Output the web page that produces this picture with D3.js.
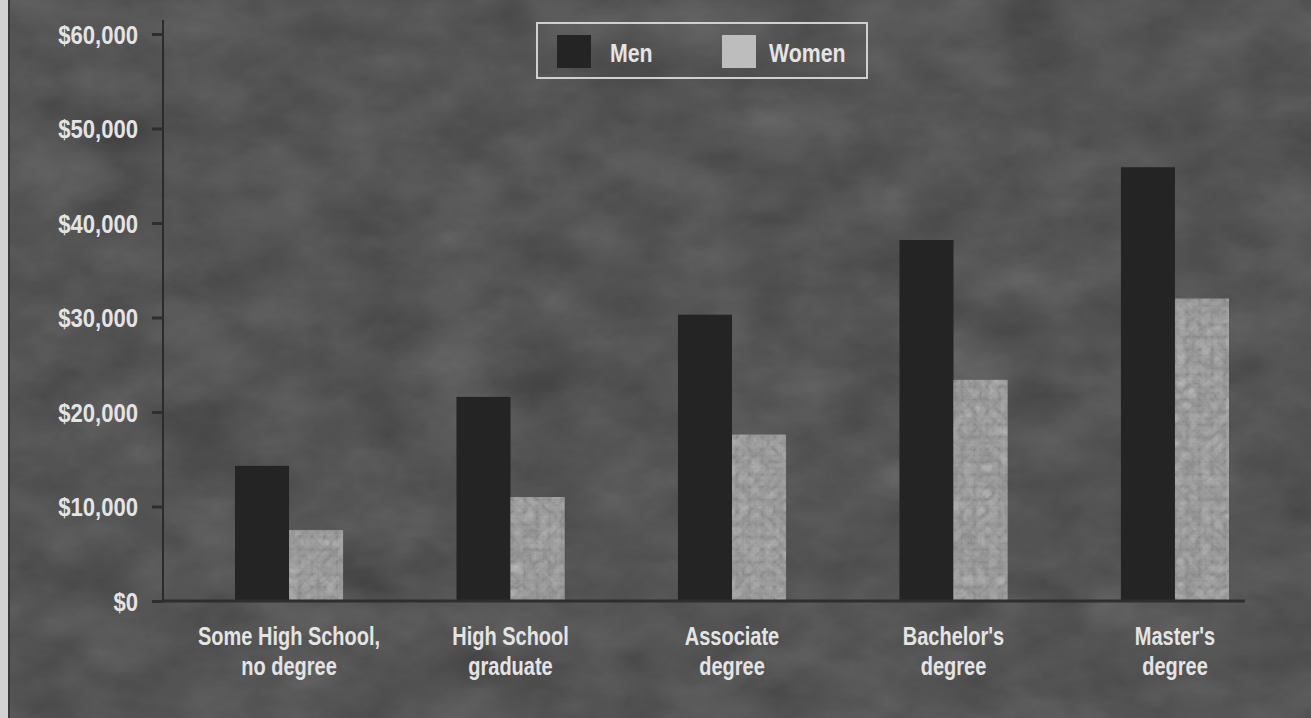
<!DOCTYPE html>
<html><head><meta charset="utf-8">
<script src="https://cdn.jsdelivr.net/npm/d3@7"></script>
<style>
html,body{margin:0;padding:0;background:#4f4f4f;overflow:hidden}
text{font-family:"Liberation Sans",Arial,sans-serif;font-weight:bold;fill:#e4e4e4}
</style></head>
<body><svg id="c" width="1311" height="718"></svg>
<script>
const categories = [["Some High School,","no degree"],["High School","graduate"],["Associate","degree"],["Bachelor's","degree"],["Master's","degree"]];
const seriesNames = ["Men","Women"];
const men   = [14300, 21600, 30300, 38200, 45900];
const women = [7500, 11000, 17600, 23400, 32000];
const yTicks = [0,10000,20000,30000,40000,50000,60000];
const yTickLabels = ["$0","$10,000","$20,000","$30,000","$40,000","$50,000","$60,000"];

const W = 1311, H = 718;
const SX = 0.82;
const svg = d3.select("#c");
const defs = svg.append("defs");

const f = defs.append("filter").attr("id","stone").attr("x",0).attr("y",0).attr("width","100%").attr("height","100%").attr("color-interpolation-filters","sRGB");
f.append("feTurbulence").attr("type","fractalNoise").attr("baseFrequency","0.012 0.02").attr("numOctaves",5).attr("seed",7);
f.append("feColorMatrix").attr("type","matrix").attr("values","0.33 0.33 0.33 0 0 0.33 0.33 0.33 0 0 0.33 0.33 0.33 0 0 0 0 0 0 1");

const f2 = defs.append("filter").attr("id","swirl").attr("x",0).attr("y",0).attr("width","100%").attr("height","100%").attr("color-interpolation-filters","sRGB");
f2.append("feTurbulence").attr("type","turbulence").attr("baseFrequency","0.08").attr("numOctaves",3).attr("seed",2);
f2.append("feColorMatrix").attr("type","matrix").attr("values","0.33 0.33 0.33 0 0 0.33 0.33 0.33 0 0 0.33 0.33 0.33 0 0 0 0 0 0 1");
const cp = defs.append("clipPath").attr("id","womenClip");

// background
svg.append("rect").attr("width",W).attr("height",H).attr("fill","#474747");
svg.append("rect").attr("width",W).attr("height",H).attr("filter","url(#stone)").attr("opacity",0.25);
svg.append("rect").attr("x",0).attr("y",0).attr("width",8).attr("height",H).attr("fill","#d2d2d2");
svg.append("rect").attr("x",8).attr("y",0).attr("width",2).attr("height",H).attr("fill","#3a3a3a");

const y = d3.scaleLinear().domain([0,60000]).range([601,34]);
const keys = categories.map(c=>c.join(" "));
const x = d3.scaleBand().domain(keys).range([165,1299]).paddingInner(0.512).paddingOuter(0.316);
const xs = d3.scaleBand().domain(seriesNames).range([0,x.bandwidth()]);

// y axis
const yAxis = d3.axisLeft(y).tickValues(yTicks).tickFormat((d,i)=>yTickLabels[i]).tickSize(11).tickPadding(25);
const ga = svg.append("g").attr("transform","translate(163,0)").call(yAxis);
ga.select(".domain").attr("stroke","#2b2b2b").attr("stroke-width",2).attr("d","M0,20V601");
ga.selectAll(".tick line").attr("stroke","#2e2e2e").attr("stroke-width",3);
ga.selectAll(".tick text").attr("font-size",26).attr("fill","#e4e4e4").attr("dy","0.36em")
  .attr("x",-25/0.85).attr("transform","scale(0.85,1)")
  .style("font-family",'"Liberation Sans",Arial,sans-serif').style("font-weight","bold");

// bars
const data = keys.map((k,i)=>({k, vals:[{s:"Men",v:men[i]},{s:"Women",v:women[i]}]}));
const g = svg.append("g");
data.forEach(d=>{
  d.vals.forEach(p=>{
    const bx = x(d.k)+xs(p.s), by = y(p.v), bw = xs.bandwidth(), bh = y(0)-y(p.v);
    if(p.s==="Men"){
      g.append("rect").attr("x",bx).attr("y",by).attr("width",bw).attr("height",bh).attr("fill","#242424");
    } else {
      g.append("rect").attr("x",bx).attr("y",by).attr("width",bw).attr("height",bh).attr("fill","#bdbdbd");
      cp.append("rect").attr("x",bx).attr("y",by).attr("width",bw).attr("height",bh);
    }
  });
});
g.append("rect").attr("width",W).attr("height",H).attr("filter","url(#swirl)").attr("clip-path","url(#womenClip)").attr("opacity",0.3);

// x axis line
svg.append("line").attr("x1",163).attr("x2",1245).attr("y1",y(0)).attr("y2",y(0)).attr("stroke","#2e2e2e").attr("stroke-width",3);

// category labels
categories.forEach((c,i)=>{
  const cx = x(keys[i]) + x.bandwidth()/2;
  const t = svg.append("text").attr("transform",`translate(${cx},645) scale(0.8,1)`).attr("text-anchor","middle").attr("font-size",25);
  c.forEach((line,j)=>t.append("tspan").attr("x",0).attr("dy",j?30:0).text(line));
});

// legend
const lg = svg.append("g");
lg.append("rect").attr("x",537).attr("y",23).attr("width",330).attr("height",55).attr("fill","none").attr("stroke","#d0d0d0").attr("stroke-width",2);
const legendItems = [{s:"Men",sx:557,tx:610,fill:"#242424"},{s:"Women",sx:722,tx:769,fill:"#bdbdbd"}];
legendItems.forEach(it=>{
  lg.append("rect").attr("x",it.sx).attr("y",35).attr("width",34).attr("height",33).attr("fill",it.fill);
  lg.append("text").attr("transform",`translate(${it.tx},62) scale(${SX},1)`).attr("font-size",26).text(it.s);
});
</script></body></html>
